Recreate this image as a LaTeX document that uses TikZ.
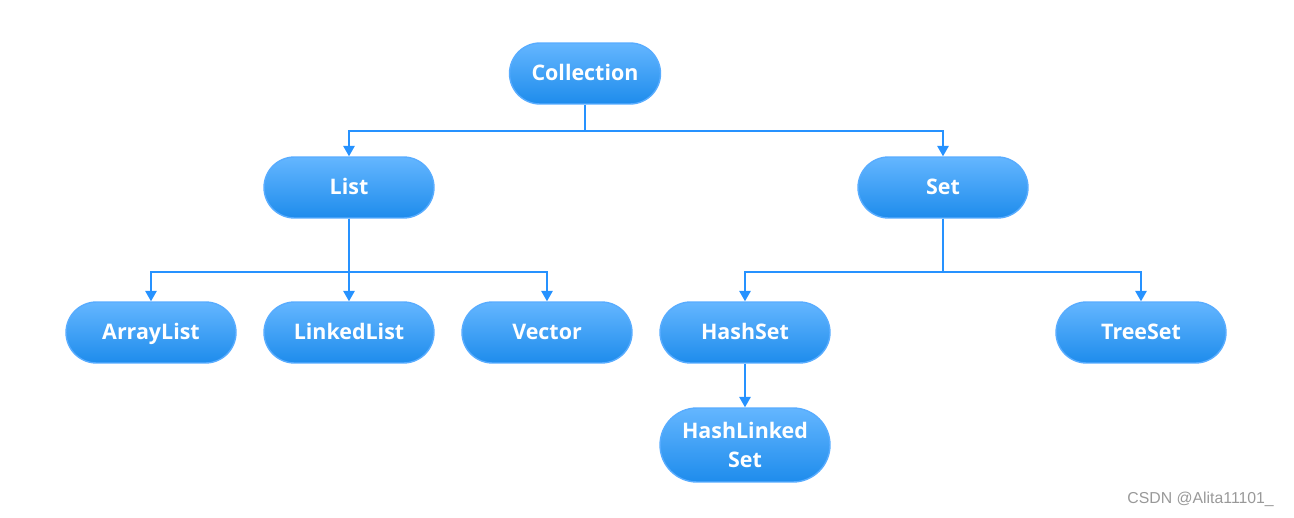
\documentclass[tikz,border=0pt]{standalone}
\usepackage{fontspec}
\setmainfont{Open Sans}
\newfontfamily\wmfont{Liberation Sans}
\usetikzlibrary{arrows.meta,shapes.misc}
\definecolor{linkblue}{RGB}{38,146,255}
\definecolor{pilltop}{RGB}{100,182,255}
\definecolor{pillbot}{RGB}{30,140,236}
\definecolor{pillrim}{RGB}{88,172,255}
\begin{document}
\begin{tikzpicture}[x=0.02cm, y=-0.02cm,
		pill/.style={rounded rectangle, draw=pillrim, line width=0.8pt,
			top color=pilltop, bottom color=pillbot,
			minimum width=3.4cm, minimum height=1.22cm, inner sep=0pt,
			text height=1.75ex, text depth=0.3ex,
			text=white, font=\bfseries\fontsize{12.2}{16}\selectfont, align=center},
		link/.style={draw=linkblue, line width=1.1pt, -{Triangle[length=6pt, width=6.5pt]}}]
			\useasboundingbox (0,0) rectangle (1294,517);
			% top levels
			\node[pill, minimum width=3.02cm] (coll) at (585,73.5) {Collection};
			\node[pill] (list) at (349,187.5) {List};
			\node[pill] (set) at (943,187.5) {Set};
			% leaves
			\node[pill] (arr) at (151,332.5) {ArrayList};
			\node[pill] (lnk) at (349,332.5) {LinkedList};
			\node[pill] (vec) at (547,332.5) {Vector};
			\node[pill] (hs) at (745,332.5) {HashSet};
			\node[pill] (ts) at (1141,332.5) {TreeSet};
			\node[pill, minimum height=1.48cm, text height={}, text depth={}] (hls) at (745,445) {HashLinked\\Set};
			% junctions
			\coordinate (j1) at (585,131);
			\coordinate (j2) at (349,272);
			\coordinate (j3) at (943,272);
			\draw[link] (coll.south) -- (j1) -| (list.north);
			\draw[link] (j1) -| (set.north);
			\foreach \leaf in {arr,lnk,vec}{
			  \draw[link] (list.south) -- (j2) -| (\leaf.north);
			}
			\foreach \leaf in {hs,ts}{
			  \draw[link] (set.south) -- (j3) -| (\leaf.north);
			}
			\draw[link] (hs.south) -- (hls.north);
			\node[anchor=east, text=black!40, font=\wmfont\fontsize{9}{11}\selectfont] (wm) at (1280,499) {CSDN @Alita11101\_};
		\end{tikzpicture}
\end{document}
